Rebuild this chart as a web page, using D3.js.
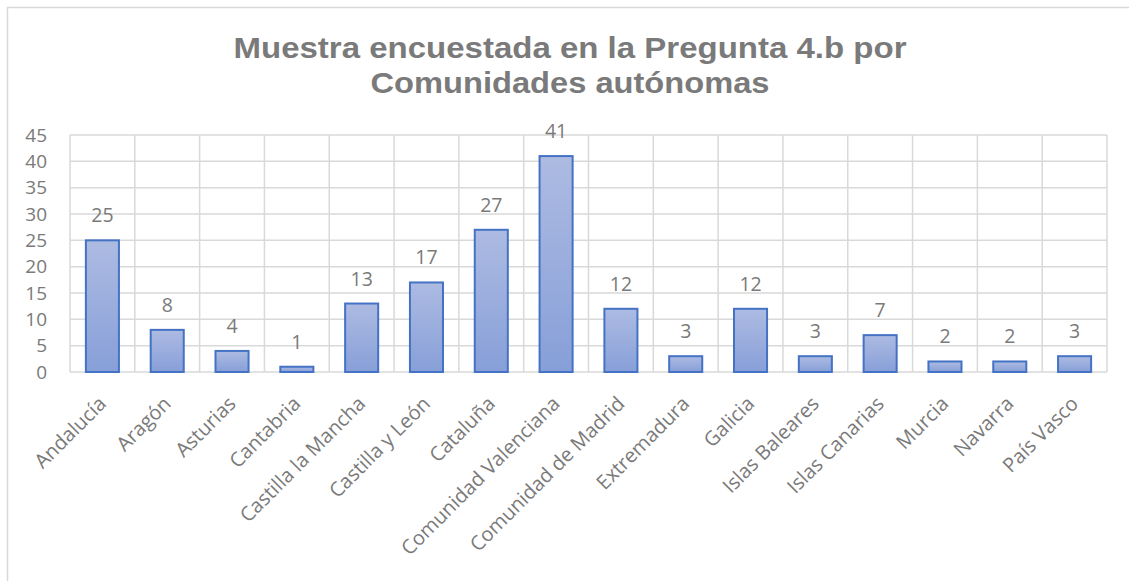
<!DOCTYPE html>
<html>
<head>
<meta charset="utf-8">
<script src="https://cdn.jsdelivr.net/npm/d3@7"></script>
<style>
  body { margin: 0; background: #fff; }
  text { font-family: "Open Sans", "Noto Sans", sans-serif; }
</style>
</head>
<body>
<div id="chart"></div>
<script>
// data
const regiones = ["Andalucía", "Aragón", "Asturias", "Cantabria", "Castilla la Mancha",
  "Castilla y León", "Cataluña", "Comunidad Valenciana", "Comunidad de Madrid",
  "Extremadura", "Galicia", "Islas Baleares", "Islas Canarias", "Murcia", "Navarra", "País Vasco"];
const muestra = [25, 8, 4, 1, 13, 17, 27, 41, 12, 3, 12, 3, 7, 2, 2, 3];
const yTicks = [0, 5, 10, 15, 20, 25, 30, 35, 40, 45];
const titulo = ["Muestra encuestada en la Pregunta 4.b por", "Comunidades autónomas"];
const tituloAncho = [673, 399];

const W = 1129, H = 581;
const margin = {left: 70, right: 22, top: 135, bottom: 209};
const gray = "#7a7a7a";

const svg = d3.select("#chart").append("svg")
  .attr("width", W).attr("height", H);

const defs = svg.append("defs");
const grad = defs.append("linearGradient").attr("id", "barGrad")
  .attr("x1", 0).attr("y1", 0).attr("x2", 0).attr("y2", 1);
grad.append("stop").attr("offset", "0%").attr("stop-color", "#adbbe2");
grad.append("stop").attr("offset", "100%").attr("stop-color", "#879fd8");

// chart frame (clipped on right and bottom)
svg.append("path")
  .attr("d", "M7.5," + H + "V7.5H" + W)
  .attr("fill", "none").attr("stroke", "#d9d9d9").attr("stroke-width", 1.5);

// title, a little wider than the font so stretch to fit
svg.append("g").selectAll("text").data(titulo).enter().append("text")
  .attr("x", 570).attr("y", (d, i) => i ? 93 : 58)
  .attr("text-anchor", "middle")
  .attr("fill", gray)
  .attr("textLength", (d, i) => tituloAncho[i])
  .attr("lengthAdjust", "spacingAndGlyphs")
  .style("font-family", "'Liberation Sans', Arial, sans-serif")
  .style("font-weight", "bold")
  .style("font-size", "29.5px")
  .text(d => d);

const innerW = W - margin.left - margin.right;
const innerH = H - margin.top - margin.bottom;

const x = d3.scaleBand().domain(regiones).range([0, innerW]).paddingInner(0.49).paddingOuter(0.245);
const xg = d3.scaleBand().domain(regiones).range([0, innerW]);
const y = d3.scaleLinear().domain([0, 45]).range([innerH, 0]);

const g = svg.append("g").attr("transform", "translate(" + margin.left + "," + margin.top + ")");

// horizontal gridlines
g.append("g").selectAll("line").data(yTicks).enter().append("line")
  .attr("x1", 0).attr("x2", innerW)
  .attr("y1", d => y(d)).attr("y2", d => y(d))
  .attr("stroke", "#d9d9d9").attr("stroke-width", 1.5);

// vertical gridlines at category edges
g.append("g").selectAll("line").data(regiones.concat(["_end"])).enter().append("line")
  .attr("x1", (d, i) => i * xg.step()).attr("x2", (d, i) => i * xg.step())
  .attr("y1", 0).attr("y2", innerH)
  .attr("stroke", "#d9d9d9").attr("stroke-width", 1.5);

// y axis
const yAxis = g.append("g")
  .call(d3.axisLeft(y).tickValues(yTicks).tickSize(0).tickPadding(23));
yAxis.select(".domain").remove();
yAxis.selectAll("text")
  .attr("fill", gray)
  .style("font-size", "19px")
  .style("font-family", "'Open Sans', sans-serif");

// bars
g.append("g").selectAll("rect").data(muestra).enter().append("rect")
  .attr("x", (d, i) => x(regiones[i]))
  .attr("y", d => y(d))
  .attr("width", x.bandwidth())
  .attr("height", d => innerH - y(d))
  .attr("fill", "url(#barGrad)")
  .attr("stroke", "#4472c4").attr("stroke-width", 2);

// value labels
g.append("g").selectAll("text").data(muestra).enter().append("text")
  .attr("x", (d, i) => x(regiones[i]) + x.bandwidth() / 2)
  .attr("y", d => y(d) - 18)
  .attr("text-anchor", "middle")
  .attr("fill", gray)
  .style("font-size", "19.5px")
  .text(d => d);

// x axis labels, rotated
g.append("g").selectAll("text").data(regiones).enter().append("text")
  .attr("transform", d => "translate(" + (xg(d) + xg.step() / 2 + 5) + "," + (innerH + 33) + ") rotate(-45)")
  .attr("text-anchor", "end")
  .attr("fill", gray)
  .style("font-size", "20px")
  .text(d => d);
</script>
</body>
</html>
